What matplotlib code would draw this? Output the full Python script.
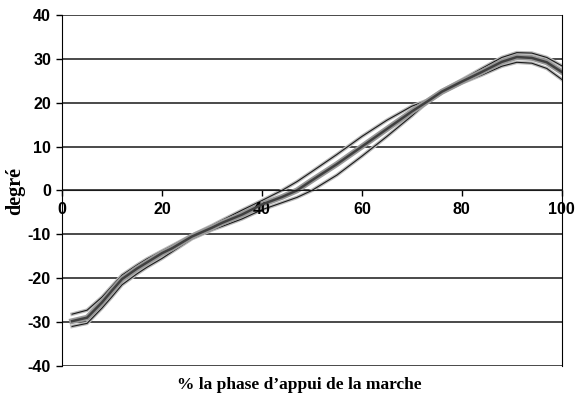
import matplotlib
matplotlib.use("Agg")
import matplotlib.pyplot as plt

plt.rcParams["axes.unicode_minus"] = False

# % de la phase d'appui
x_moy = [2, 5, 8, 10, 12, 15, 17, 20, 22, 26, 30, 32, 36, 40, 44, 47, 50,
         55, 60, 65, 70, 73, 76, 80, 84, 88, 91, 94, 97, 100]
# courbe moyenne
moyenne = [-29.8, -29.0, -25.5, -22.8, -20.2, -17.8, -16.4, -14.3, -13.2, -10.5,
           -8.5, -7.4, -5.5, -3.2, -1.5, 0.0, 2.3, 6.0, 10.0, 14.0, 18.0, 20.2,
           22.5, 24.8, 27.0, 29.3, 30.4, 30.2, 29.2, 27.0]
# moyenne + écart-type
haut = [-28.2, -27.3, -24.3, -21.8, -19.3, -17.0, -15.6, -13.8, -12.6, -10.2,
        -8.0, -6.8, -4.5, -2.3, 0.0, 2.0, 4.3, 8.2, 12.3, 16.0, 19.2, 20.5,
        22.7, 25.2, 27.8, 30.3, 31.4, 31.3, 30.3, 28.4]
# moyenne - écart-type
bas = [-31.0, -30.3, -26.8, -24.2, -21.5, -19.0, -17.5, -15.5, -14.0, -11.0,
       -9.0, -8.2, -6.5, -4.4, -2.8, -1.6, 0.0, 3.5, 7.8, 12.3, 17.0, 20.0,
       22.2, 24.5, 26.3, 28.3, 29.2, 29.0, 27.8, 25.3]

y_ticks = [-40, -30, -20, -10, 0, 10, 20, 30, 40]
x_ticks = [0, 20, 40, 60, 80, 100]

fig = plt.figure(figsize=(5.75, 4.03), dpi=100)
ax = fig.add_axes([0.108, 0.092, 0.869, 0.871])

for v in y_ticks:
    ax.axhline(v, color="#3a3a3a", lw=1.3, zorder=0.5)

# enveloppes
for serie in (haut, bas):
    ax.plot(x_moy, serie, color="#bbbbbb", lw=2.6, zorder=1.0)
    ax.plot(x_moy, serie, color="#1a1a1a", lw=0.8, zorder=1.2)
# moyenne
ax.plot(x_moy, moyenne, color="#999999", lw=4.2, zorder=1.5)
ax.plot(x_moy, moyenne, color="#404040", lw=1.8, zorder=1.7)

ax.set_xlim(0, 100)
ax.set_ylim(-40, 40)
ax.set_xticks(x_ticks)
ax.set_yticks(y_ticks)

ax.spines["top"].set_visible(False)
ax.spines["bottom"].set_position(("data", 0))
ax.spines["bottom"].set_color("#1a1a1a")
ax.spines["left"].set_color("black")
ax.spines["right"].set_color("black")
ax.tick_params(axis="both", direction="out", length=4, width=1, pad=4,
               labelsize=11.5)
for lab in ax.get_xticklabels() + ax.get_yticklabels():
    lab.set_fontfamily("Liberation Sans")
    lab.set_fontweight("bold")

fig.text(0.026, 0.525, "degré", rotation=90, ha="center", va="center",
         family="Liberation Serif", fontweight="bold", fontsize=14.5)
fig.text(0.52, 0.045, "% la phase d\u2019appui de la marche", ha="center",
         va="center", family="Liberation Serif", fontweight="bold", fontsize=12.5)

fig.savefig("out.png", dpi=100)
